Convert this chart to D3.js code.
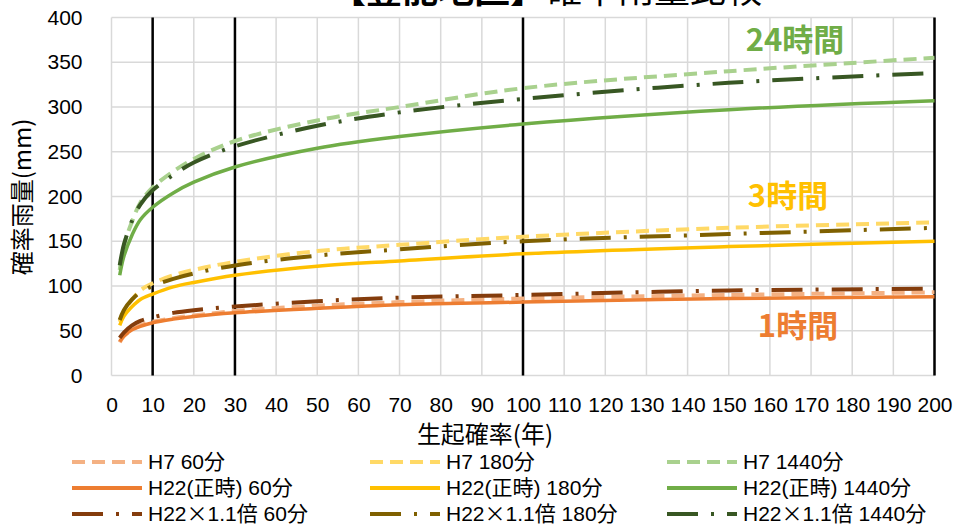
<!DOCTYPE html>
<html>
<head>
<meta charset="utf-8">
<script src="https://cdn.jsdelivr.net/npm/d3@7"></script>
<style>
  body { margin: 0; background: #fff; }
  svg text { font-family: "Liberation Sans", "Noto Sans CJK JP", sans-serif; fill: #000; }
  .cjk { font-family: "Noto Sans CJK JP", sans-serif; }
</style>
</head>
<body>
<div class="chart"></div>
<script>
// return period (years)
var years = [2, 3, 5, 7, 10, 15, 20, 30, 50, 70, 100, 150, 200];

// 60 min
var h7_60    = [37, 44, 51, 56, 60, 64, 67, 72, 78, 82, 86, 90, 93];
var h22_60   = [38, 44, 51, 55, 59, 63, 66, 70, 75, 79, 82, 86, 88];
var h22x_60  = [42, 48, 56, 61, 65, 70, 73, 77, 83, 87, 90, 95, 97];
// 180 min
var h7_180   = [60, 72, 85, 95, 103, 112, 118, 127, 139, 146, 155, 165, 171];
var h22_180  = [56, 66, 77, 85, 91, 99, 104, 112, 122, 128, 136, 144, 150];
var h22x_180 = [62, 73, 85, 93, 100, 108, 114, 123, 134, 141, 150, 158, 165];
// 1440 min
var h7_1440   = [118, 145, 172, 193, 210, 228, 242, 262, 285, 300, 321, 340, 355];
var h22_1440  = [112, 133, 157, 174, 188, 204, 216, 233, 254, 267, 281, 297, 307];
var h22x_1440 = [123, 146, 173, 191, 207, 224, 238, 256, 279, 294, 309, 327, 338];

var refYears = [10, 30, 100, 200];
var xTicks = d3.range(0, 201, 10);
var yTicks = d3.range(0, 401, 50);

var names = ["H7 60分", "H7 180分", "H7 1440分",
             "H22(正時) 60分", "H22(正時) 180分", "H22(正時) 1440分",
             "H22\u00d71.1倍 60分", "H22\u00d71.1倍 180分", "H22\u00d71.1倍 1440分"];
var values = [h7_60, h7_180, h7_1440, h22_60, h22_180, h22_1440, h22x_60, h22x_180, h22x_1440];
var colors = ["#F4B183", "#FFD966", "#A9D18E",
              "#ED7D31", "#FFC000", "#70AD47",
              "#843C0C", "#7F6000", "#385723"];
var dashes = ["13,7", "13,7", "13,7",
              null, null, null,
              "31,13,3,13", "31,13,3,13", "31,13,3,13"];

var width = 959, height = 526;
var svg = d3.select(".chart").append("svg")
    .attr("width", width)
    .attr("height", height);

var x = d3.scaleLinear().domain([0, 200]).range([111.5, 934.5]);
var y = d3.scaleLinear().domain([0, 400]).range([375.5, 17.5]);

// grid
svg.append("g").selectAll("line.h")
    .data(yTicks).enter().append("line")
    .attr("x1", x(0)).attr("x2", x(200))
    .attr("y1", function(d){ return y(d); })
    .attr("y2", function(d){ return y(d); })
    .attr("stroke", "#D9D9D9").attr("stroke-width", 1.5);

svg.append("g").selectAll("line.v")
    .data(xTicks).enter().append("line")
    .attr("x1", function(d){ return x(d); })
    .attr("x2", function(d){ return x(d); })
    .attr("y1", y(0)).attr("y2", y(400))
    .attr("stroke", "#D9D9D9").attr("stroke-width", 1.5);

// reference years
svg.append("g").selectAll("line")
    .data(refYears).enter().append("line")
    .attr("x1", function(d){ return x(d); })
    .attr("x2", function(d){ return x(d); })
    .attr("y1", y(0)).attr("y2", y(400))
    .attr("stroke", "#000").attr("stroke-width", 2.5);

// axes (labels only)
var xAxis = svg.append("g")
    .attr("transform", "translate(0," + y(0) + ")")
    .call(d3.axisBottom(x).tickValues(xTicks).tickSize(0).tickPadding(22));
xAxis.select(".domain").remove();
xAxis.selectAll("text").attr("font-size", 21).attr("fill", "#000")
    .style("font-family", "'Liberation Sans', sans-serif");

var yAxis = svg.append("g")
    .attr("transform", "translate(" + x(0) + ",0)")
    .call(d3.axisLeft(y).tickValues(yTicks).tickSize(0).tickPadding(29));
yAxis.select(".domain").remove();
yAxis.selectAll("text").attr("font-size", 21).attr("fill", "#000")
    .style("font-family", "'Liberation Sans', sans-serif");

// series
var line = d3.line()
    .x(function(d){ return x(d[0]); })
    .y(function(d){ return y(d[1]); })
    .curve(d3.curveCatmullRom.alpha(0.5));

values.forEach(function(vals, i) {
  var pts = years.map(function(t, j){ return [t, vals[j]]; });
  svg.append("path")
      .datum(pts)
      .attr("d", line)
      .attr("fill", "none")
      .attr("stroke", colors[i])
      .attr("stroke-width", i >= 3 && i < 6 ? 3.5 : 4)
      .attr("stroke-dasharray", dashes[i]);
});

// curve labels
var durLabels = ["24時間", "3時間", "1時間"];
var durColors = ["#70AD47", "#FFC000", "#ED7D31"];
var durPos = [[795, 40], [788, 196], [798, 326]];
svg.append("g").selectAll("text")
    .data(durLabels).enter().append("text")
    .attr("class", "cjk")
    .attr("x", function(d, i){ return durPos[i][0]; })
    .attr("y", function(d, i){ return durPos[i][1]; })
    .attr("dy", "0.36em")
    .attr("text-anchor", "middle")
    .attr("font-size", 31)
    .attr("font-weight", "bold")
    .style("fill", function(d, i){ return durColors[i]; })
    .text(function(d){ return d; });

// axis titles
svg.append("text")
    .attr("class", "cjk")
    .attr("transform", "translate(22,197) rotate(-90)")
    .attr("text-anchor", "middle")
    .attr("dy", "0.36em")
    .attr("font-size", 24)
    .text("確率雨量(mm)");

svg.append("text")
    .attr("class", "cjk")
    .attr("x", 485).attr("y", 434)
    .attr("dy", "0.36em")
    .attr("text-anchor", "middle")
    .attr("font-size", 24)
    .text("生起確率(年)");

// title (cut off at top, as in the original)
var title = svg.append("text")
    .attr("class", "cjk")
    .attr("x", 330).attr("y", 3)
    .attr("font-size", 36);
title.append("tspan").attr("font-weight", "bold").text("【豊能地区】");
title.append("tspan").text("確率雨量比較");

// legend
var colX = [72, 370, 667];
var rowY = [462, 488, 514];
var leg = svg.append("g").selectAll("g")
    .data(names).enter().append("g")
    .attr("transform", function(d, i){
      return "translate(" + colX[i % 3] + "," + rowY[Math.floor(i / 3)] + ")";
    });
leg.append("line")
    .attr("x1", 0).attr("x2", 70)
    .attr("stroke", function(d, i){ return colors[i]; })
    .attr("stroke-width", 4)
    .attr("stroke-dasharray", function(d, i){ return dashes[i]; });
var legText = leg.append("text")
    .attr("x", 76)
    .attr("dy", "0.35em")
    .attr("font-size", 21);
// the multiply sign is full width in the original
legText.each(function(d) {
  var parts = d.split("\u00d7");
  var t = d3.select(this);
  t.append("tspan").text(parts[0]);
  if (parts.length > 1) {
    t.append("tspan").attr("class", "cjk").text("\u00d7");
    t.append("tspan").text(parts[1]);
  }
});
</script>
</body>
</html>
